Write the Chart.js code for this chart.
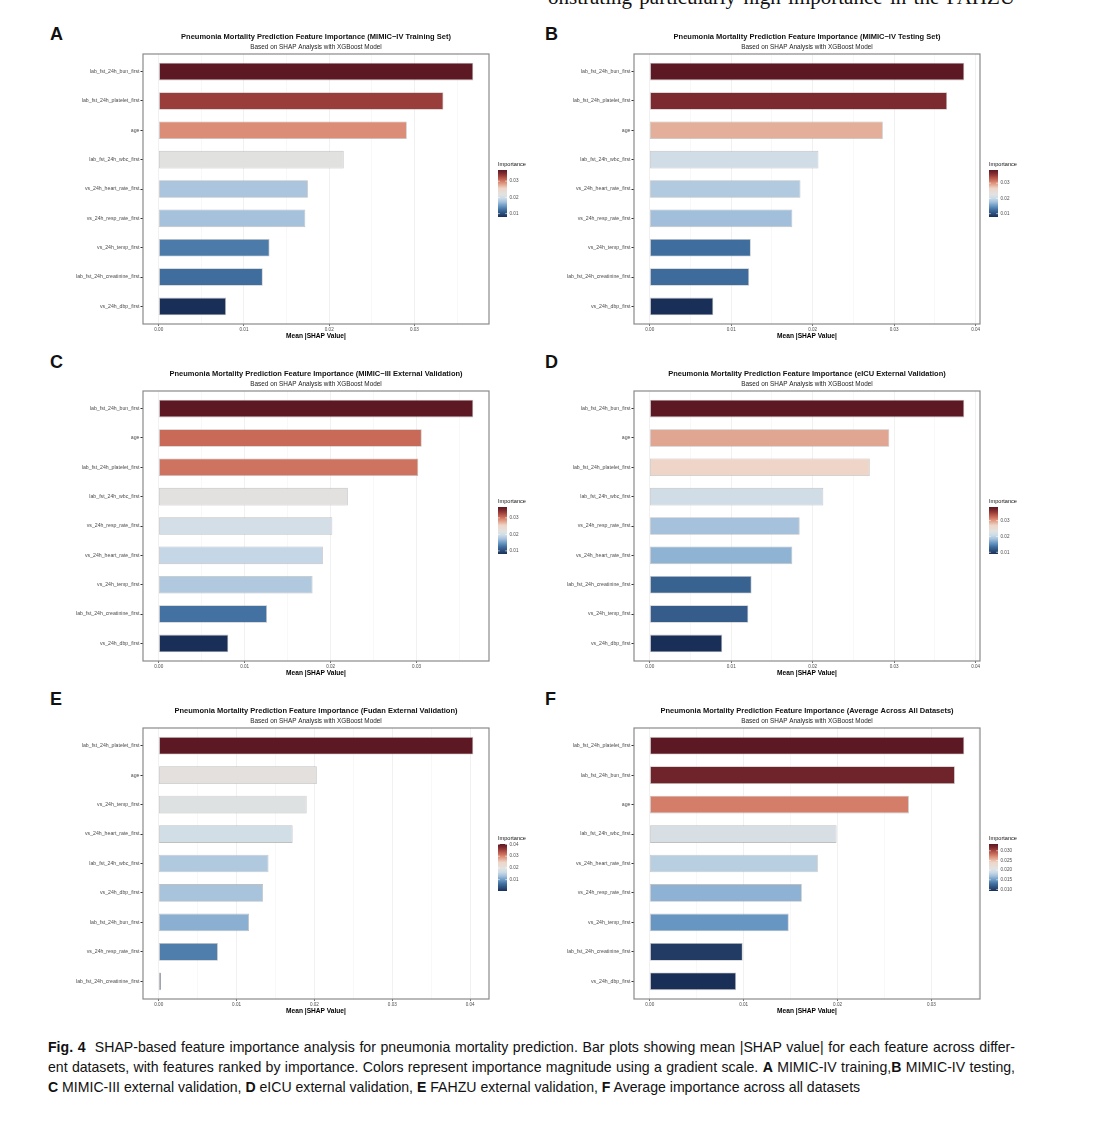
<!DOCTYPE html>
<html>
<head>
<meta charset="utf-8">
<script src="https://cdn.jsdelivr.net/npm/chart.js@4.4.1/dist/chart.umd.min.js"></script>
<style>
  body { margin: 0; background: #fff; width: 1116px; height: 1124px; position: relative; overflow: hidden;
         font-family: "Liberation Sans", Arial, sans-serif; color: #111; }
  canvas { position: absolute; }
  .letter { position: absolute; font: bold 18px "Liberation Sans", Arial, sans-serif; line-height: 18px; }
  .cap { position: absolute; left: 48px; width: 967px; font-size: 14.1px; line-height: 16px; white-space: nowrap; }
  .just { text-align: justify; text-align-last: justify; white-space: normal; }
  .top { position: absolute; left: 548px; top: -15px; width: 467px; font: 21px "Liberation Serif", serif;
         text-align: justify; text-align-last: justify; }
</style>
</head>
<body>
<div class="top">onstrating particularly high importance in the FAHZU</div>

<div class="letter" style="left:50px;top:25px">A</div>
<div class="letter" style="left:545px;top:25px">B</div>
<div class="letter" style="left:50px;top:353px">C</div>
<div class="letter" style="left:545px;top:353px">D</div>
<div class="letter" style="left:50px;top:690px">E</div>
<div class="letter" style="left:545px;top:690px">F</div>

<canvas id="chartA"></canvas>
<canvas id="chartB"></canvas>
<canvas id="chartC"></canvas>
<canvas id="chartD"></canvas>
<canvas id="chartE"></canvas>
<canvas id="chartF"></canvas>

<div class="cap just" style="top:1039px"><b>Fig. 4</b>&nbsp; SHAP-based feature importance analysis for pneumonia mortality prediction. Bar plots showing mean |SHAP value| for each feature across differ-</div>
<div class="cap just" style="top:1059px">ent datasets, with features ranked by importance. Colors represent importance magnitude using a gradient scale. <b>A</b> MIMIC-IV training,<b>B</b> MIMIC-IV testing,</div>
<div class="cap" style="top:1079px"><b>C</b> MIMIC-III external validation, <b>D</b> eICU external validation, <b>E</b> FAHZU external validation, <b>F</b> Average importance across all datasets</div>

<script>
// feature order (top to bottom) and mean |SHAP|
const featuresA = ['lab_fst_24h_bun_first', 'lab_fst_24h_platelet_first', 'age', 'lab_fst_24h_wbc_first',
  'vs_24h_heart_rate_first', 'vs_24h_resp_rate_first', 'vs_24h_temp_first', 'lab_fst_24h_creatinine_first', 'vs_24h_dbp_first'];
const valuesA = [0.0369, 0.0334, 0.0291, 0.0217, 0.0175, 0.0172, 0.0130, 0.0122, 0.0079];

const featuresB = ['lab_fst_24h_bun_first', 'lab_fst_24h_platelet_first', 'age', 'lab_fst_24h_wbc_first',
  'vs_24h_heart_rate_first', 'vs_24h_resp_rate_first', 'vs_24h_temp_first', 'lab_fst_24h_creatinine_first', 'vs_24h_dbp_first'];
const valuesB = [0.0386, 0.0365, 0.0286, 0.0207, 0.0185, 0.0175, 0.0124, 0.0122, 0.0078];

const featuresC = ['lab_fst_24h_bun_first', 'age', 'lab_fst_24h_platelet_first', 'lab_fst_24h_wbc_first',
  'vs_24h_resp_rate_first', 'vs_24h_heart_rate_first', 'vs_24h_temp_first', 'lab_fst_24h_creatinine_first', 'vs_24h_dbp_first'];
const valuesC = [0.0366, 0.0306, 0.0302, 0.0220, 0.0202, 0.0191, 0.0179, 0.0126, 0.0081];

const featuresD = ['lab_fst_24h_bun_first', 'age', 'lab_fst_24h_platelet_first', 'lab_fst_24h_wbc_first',
  'vs_24h_resp_rate_first', 'vs_24h_heart_rate_first', 'lab_fst_24h_creatinine_first', 'vs_24h_temp_first', 'vs_24h_dbp_first'];
const valuesD = [0.0386, 0.0294, 0.0270, 0.0213, 0.0184, 0.0175, 0.0125, 0.0121, 0.0089];

const featuresE = ['lab_fst_24h_platelet_first', 'age', 'vs_24h_temp_first', 'vs_24h_heart_rate_first',
  'lab_fst_24h_wbc_first', 'vs_24h_dbp_first', 'lab_fst_24h_bun_first', 'vs_24h_resp_rate_first', 'lab_fst_24h_creatinine_first'];
const valuesE = [0.0404, 0.0203, 0.0190, 0.0172, 0.0141, 0.0134, 0.0116, 0.0076, 0.0003];

const featuresF = ['lab_fst_24h_platelet_first', 'lab_fst_24h_bun_first', 'age', 'lab_fst_24h_wbc_first',
  'vs_24h_heart_rate_first', 'vs_24h_resp_rate_first', 'vs_24h_temp_first', 'lab_fst_24h_creatinine_first', 'vs_24h_dbp_first'];
const valuesF = [0.0335, 0.0325, 0.0276, 0.0199, 0.0179, 0.0162, 0.0148, 0.0099, 0.0092];

// axis tick labels
const xTicks3 = ['0.00', '0.01', '0.02', '0.03'];
const xTicks4 = ['0.00', '0.01', '0.02', '0.03', '0.04'];
const legendTicksABCD = ['0.01', '0.02', '0.03'];
const legendTicksE = ['0.01', '0.02', '0.03', '0.04'];
const legendTicksF = ['0.010', '0.015', '0.020', '0.025', '0.030'];

const titlePrefix = 'Pneumonia Mortality Prediction Feature Importance ';
const subtitle = 'Based on SHAP Analysis with XGBoost Model';

const FONT = '"Liberation Sans", Arial, sans-serif';

// red-blue gradient, sampled from the figure
const STOPS = [
  [0.00, '#1A2F57'], [0.15, '#3F6E9E'], [0.24, '#6C9BC6'], [0.32, '#A5C1DB'], [0.40, '#CCDCE8'],
  [0.48, '#E2E2E0'], [0.61, '#EFD5C8'], [0.68, '#E3AC97'], [0.74, '#DA8873'], [0.79, '#C96A58'],
  [0.88, '#9A3E3B'], [0.93, '#7D2A30'], [1.00, '#5C1823']
];

function hexToRgb(h) {
  return [parseInt(h.slice(1, 3), 16), parseInt(h.slice(3, 5), 16), parseInt(h.slice(5, 7), 16)];
}

function shade(t) {
  t = Math.max(0, Math.min(1, t));
  for (let i = 1; i < STOPS.length; i++) {
    if (t <= STOPS[i][0]) {
      const a = STOPS[i - 1], b = STOPS[i];
      const f = (t - a[0]) / (b[0] - a[0]);
      const ca = hexToRgb(a[1]), cb = hexToRgb(b[1]);
      const c = ca.map((v, k) => Math.round(v + (cb[k] - v) * f));
      return 'rgb(' + c.join(',') + ')';
    }
  }
  return STOPS[STOPS.length - 1][1];
}

const PAD_L = 100, PAD_T = 25, PAD_R = 50, AXIS_H = 22;

function makePanel(id, box, features, values, xTickLabels, legendTicks, title) {
  const canvas = document.getElementById(id);
  canvas.width = box.w + PAD_L + PAD_R;
  canvas.height = box.h + PAD_T + AXIS_H;
  canvas.style.left = (box.x - PAD_L) + 'px';
  canvas.style.top = (box.y - PAD_T) + 'px';

  const vmax = Math.max(...values), vmin = Math.min(...values);
  const xmax = vmax * 1.05;
  const majors = xTickLabels.map(Number);
  const tickVals = [];
  majors.forEach(m => {
    tickVals.push(m);
    if (m + 0.005 < xmax) tickVals.push(m + 0.005);
  });
  const majorIndex = v => majors.findIndex(m => Math.abs(m - v) < 1e-9);

  const decor = {
    id: 'decor',
    afterDraw(chart) {
      const { ctx, chartArea: a } = chart;
      ctx.save();
      ctx.strokeStyle = '#8a8a8a';
      ctx.lineWidth = 1.2;
      ctx.strokeRect(a.left, a.top, a.right - a.left, a.bottom - a.top);

      const cx = (a.left + a.right) / 2;
      ctx.textAlign = 'center';
      ctx.textBaseline = 'middle';
      ctx.fillStyle = '#111';
      ctx.font = 'bold 7.5px ' + FONT;
      ctx.fillText(titlePrefix + title, cx, a.top - 16.7);
      ctx.fillStyle = '#222';
      ctx.font = '6.4px ' + FONT;
      ctx.fillText(subtitle, cx, a.top - 6.8);

      // colour bar legend
      const lx = a.right + 9, lw = 9, y0 = a.top + 116, y1 = a.top + 163;
      ctx.textAlign = 'left';
      ctx.fillStyle = '#111';
      ctx.font = '5.6px ' + FONT;
      ctx.fillText('Importance', lx, a.top + 110);
      const g = ctx.createLinearGradient(0, y1, 0, y0);
      STOPS.forEach(s => g.addColorStop(s[0], s[1]));
      ctx.fillStyle = g;
      ctx.fillRect(lx, y0, lw, y1 - y0);
      ctx.font = '4.6px ' + FONT;
      legendTicks.forEach(lbl => {
        const y = y1 - (Number(lbl) - vmin) / (vmax - vmin) * (y1 - y0);
        ctx.strokeStyle = '#fff';
        ctx.lineWidth = 0.6;
        ctx.beginPath();
        ctx.moveTo(lx, y); ctx.lineTo(lx + 1.8, y);
        ctx.moveTo(lx + lw - 1.8, y); ctx.lineTo(lx + lw, y);
        ctx.stroke();
        ctx.fillStyle = '#4D4D4D';
        ctx.fillText(lbl, lx + lw + 2.5, y);
      });
      ctx.restore();
    }
  };

  new Chart(canvas, {
    type: 'bar',
    data: {
      datasets: [{
        data: values.map((v, i) => ({ x: v, y: i })),
        backgroundColor: values.map(v => shade((v - vmin) / (vmax - vmin))),
        borderColor: 'rgba(140,140,140,0.55)',
        borderWidth: 0.8,
        borderSkipped: false,
        barPercentage: 0.6,
        categoryPercentage: 1
      }]
    },
    options: {
      indexAxis: 'y',
      responsive: false,
      animation: false,
      layout: { padding: { left: 0, top: PAD_T, right: PAD_R, bottom: 0 } },
      plugins: { legend: { display: false }, tooltip: { enabled: false } },
      scales: {
        x: {
          type: 'linear',
          min: -0.05 * vmax,
          max: xmax,
          afterBuildTicks: s => { s.ticks = tickVals.map(v => ({ value: v })); },
          afterFit: s => { s.height = AXIS_H; },
          ticks: {
            autoSkip: false, maxRotation: 0, padding: 1, color: '#4D4D4D',
            font: { size: 4.6, family: FONT },
            callback: v => { const k = majorIndex(v); return k >= 0 ? xTickLabels[k] : ''; }
          },
          grid: {
            color: '#EBEBEB',
            lineWidth: c => (majorIndex(c.tick.value) >= 0 ? 0.7 : 0.35),
            tickLength: 2,
            tickColor: c => (majorIndex(c.tick.value) >= 0 ? '#333' : 'rgba(0,0,0,0)')
          },
          border: { display: false },
          title: {
            display: true, text: 'Mean |SHAP Value|', color: '#000',
            font: { size: 6.6, weight: 'bold', family: FONT },
            padding: { top: 0, bottom: 5.5 }
          }
        },
        y: {
          type: 'linear',
          reverse: true,
          offset: false,
          min: -0.6,
          max: features.length - 1 + 0.6,
          afterBuildTicks: s => { s.ticks = features.map((f, i) => ({ value: i })); },
          afterFit: s => { s.width = PAD_L; },
          ticks: {
            autoSkip: false, padding: 1, color: '#4D4D4D',
            font: { size: 5.2, family: FONT },
            callback: v => features[v]
          },
          grid: { offset: false, drawOnChartArea: false, tickLength: 2.5, tickColor: '#333' },
          border: { display: false }
        }
      }
    },
    plugins: [decor]
  });
}

makePanel('chartA', { x: 143, y: 54, w: 346, h: 270 }, featuresA, valuesA, xTicks3, legendTicksABCD, '(MIMIC\u2212IV Training Set)');
makePanel('chartB', { x: 634, y: 54, w: 346, h: 270 }, featuresB, valuesB, xTicks4, legendTicksABCD, '(MIMIC\u2212IV Testing Set)');
makePanel('chartC', { x: 143, y: 391, w: 346, h: 270 }, featuresC, valuesC, xTicks3, legendTicksABCD, '(MIMIC\u2212III External Validation)');
makePanel('chartD', { x: 634, y: 391, w: 346, h: 270 }, featuresD, valuesD, xTicks4, legendTicksABCD, '(eICU External Validation)');
makePanel('chartE', { x: 143, y: 728, w: 346, h: 271 }, featuresE, valuesE, xTicks4, legendTicksE, '(Fudan External Validation)');
makePanel('chartF', { x: 634, y: 728, w: 346, h: 271 }, featuresF, valuesF, xTicks3, legendTicksF, '(Average Across All Datasets)');
</script>
</body>
</html>
